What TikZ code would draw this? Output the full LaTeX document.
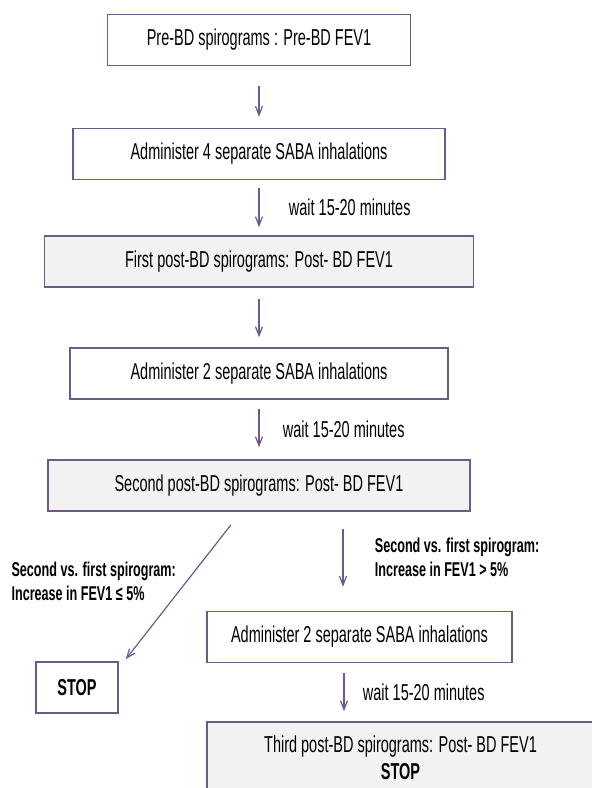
\documentclass[tikz,border=0pt]{standalone}
\usepackage{fontspec}
\setmainfont{Liberation Sans}[FakeStretch=0.63]
\usetikzlibrary{shapes.geometric, arrows.meta}
\definecolor{frame}{HTML}{6E5A88}
\definecolor{shade}{HTML}{F2F2F2}
\tikzstyle{process} = [rectangle, minimum height=51pt, text centered, draw=frame, line width=1.5pt, font=\fontsize{23}{27}\selectfont]
\tikzstyle{result} = [process, fill=shade]
\tikzstyle{note} = [align=left, font=\fontsize{20}{24}\selectfont\bfseries]
\tikzstyle{wait} = [font=\fontsize{23}{27}\selectfont]
\tikzstyle{arrow} = [draw=frame, line width=1.2pt, ->, >={Straight Barb[length=9pt,width=7pt]}]

\begin{document}
\begin{tikzpicture}[node distance=111pt]
\path[fill=white, use as bounding box] (0,0) rectangle (592pt,-788pt);
\node (pre) [process, minimum width=303pt] at (259pt,-40pt) {Pre-BD spirograms : Pre-BD FEV1};
\node (saba4) [process, below of=pre, yshift=-3pt, minimum width=372pt] {Administer 4 separate SABA inhalations};
\node (post1) [result, below of=saba4, yshift=3.5pt, minimum width=429pt] {First post-BD spirograms: Post- BD FEV1};
\node (saba2) [process, below of=post1, yshift=-1pt, minimum width=378pt] {Administer 2 separate SABA inhalations};
\node (post2) [result, below of=saba2, yshift=-1pt, minimum width=422pt] {Second post-BD spirograms: Post- BD FEV1};
\node (saba2b) [process, below of=post2, xshift=100.5pt, yshift=-40.5pt, minimum width=305pt] {Administer 2 separate SABA inhalations};
\node (stopl) [process, below of=post2, xshift=-182pt, yshift=-91pt, minimum width=82pt, font=\fontsize{23}{27}\selectfont\bfseries] {STOP};
\node (post3) [result, below of=saba2b, xshift=41pt, yshift=-10pt, minimum width=387pt, minimum height=72pt, align=center] {Third post-BD spirograms: Post- BD FEV1\\\textbf{STOP}};
\draw [arrow, shorten <=20pt, shorten >=11pt] (pre) -- (saba4);
\draw [arrow, shorten <=8pt, shorten >=8pt] (saba4) -- node[wait, anchor=west, xshift=26pt] {wait 15-20 minutes} (post1);
\draw [arrow, shorten <=11pt, shorten >=10pt] (post1) -- (saba2);
\draw [arrow, shorten <=9pt, shorten >=12pt] (saba2) -- node[wait, anchor=west, xshift=20pt] {wait 15-20 minutes} (post2);
\draw [arrow] ([xshift=84pt,yshift=-17pt]post2.south) -- node[note, anchor=west, xshift=28pt] {Second vs. first spirogram:\\Increase in FEV1 > 5\%} ([xshift=-16.5pt,yshift=24pt]saba2b.north);
\draw [arrow] ([xshift=-28pt,yshift=-13pt]post2.south) -- node[note, pos=0.42, anchor=east, xshift=-7pt] {Second vs. first spirogram:\\Increase in FEV1 ≤ 5\%} ([xshift=7pt,yshift=2pt]stopl.north east);
\draw [arrow, shorten <=10pt, shorten >=10pt] ([xshift=-15.5pt]saba2b.south) -- node[wait, anchor=west, xshift=15pt] {wait 15-20 minutes} ([xshift=-15.5pt]saba2b.south |- post3.north);
\end{tikzpicture}
\end{document}
